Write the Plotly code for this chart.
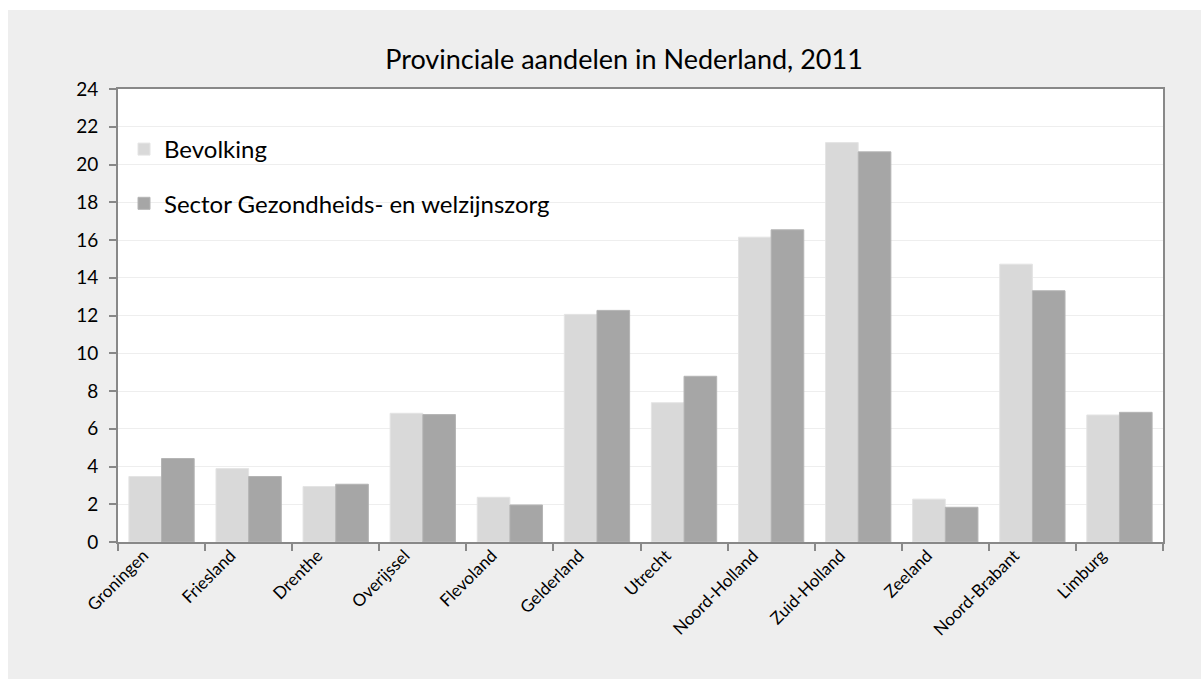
import plotly.graph_objects as go

provinces = ["Groningen", "Friesland", "Drenthe", "Overijssel", "Flevoland", "Gelderland",
             "Utrecht", "Noord-Holland", "Zuid-Holland", "Zeeland", "Noord-Brabant", "Limburg"]
bevolking = [3.47, 3.89, 2.94, 6.82, 2.37, 12.06, 7.38, 16.15, 21.16, 2.27, 14.72, 6.73]
sector = [4.42, 3.47, 3.06, 6.75, 1.96, 12.27, 8.78, 16.54, 20.67, 1.84, 13.31, 6.87]
y_ticks = list(range(0, 25, 2))

FONT = "Lato, 'Open Sans', sans-serif"

fig = go.Figure()
fig.add_trace(go.Bar(x=provinces, y=bevolking, name="Bevolking", legendgroup="a",
                     marker=dict(color="#D9D9D9", line=dict(color="#E4E4E4", width=1))))
fig.add_trace(go.Bar(x=provinces, y=sector, name="Sector Gezondheids- en welzijnszorg", legendgroup="b",
                     marker=dict(color="#A6A6A6", line=dict(color="#B4B4B4", width=1))))

L, R, T, B = 118, 38, 89, 137
W, H = 1201, 679
pw, ph = W - L - R, H - T - B

def px(x):
    return (x - L) / pw

def py(y):
    return (H - B - y) / ph

fig.update_layout(
    width=W, height=H,
    margin=dict(l=L, r=R, t=T, b=B),
    paper_bgcolor="#EEEEEE",
    plot_bgcolor="#FFFFFF",
    barmode="group",
    bargap=0.25,
    bargroupgap=0,
    font=dict(family=FONT, color="#000000"),
    title=dict(text="Provinciale aandelen in Nederland, 2011", x=px(624), xref="paper", xanchor="center",
               y=(H - 60) / H, yanchor="middle", font=dict(size=27, family=FONT, color="#000000")),
    legend=dict(x=px(124), y=py(127), xanchor="left", yanchor="top", bgcolor="rgba(0,0,0,0)",
                font=dict(size=24, family=FONT, color="#000000"), tracegroupgap=20,
                traceorder="grouped", itemwidth=30),
    showlegend=True,
    shapes=[
        dict(type="rect", xref="paper", yref="paper", x0=px(-5), x1=px(8), y0=py(-5), y1=py(H + 5),
             fillcolor="#FFFFFF", line=dict(width=0), layer="below"),
        dict(type="rect", xref="paper", yref="paper", x0=px(-5), x1=px(W + 5), y0=py(10), y1=py(-5),
             fillcolor="#FFFFFF", line=dict(width=0), layer="below"),
    ],
)

fig.update_xaxes(
    type="category", tickson="boundaries", ticks="outside", ticklen=7, tickwidth=2, tickcolor="#888888",
    showline=True, linecolor="#888888", linewidth=2, mirror=True,
    tickangle=-45, tickfont=dict(size=17, family=FONT, color="#000000"), showgrid=False,
    ticklabelshift=-18, ticklabelstandoff=-5,
)
fig.update_yaxes(
    range=[0, 24], tickvals=y_ticks, ticks="outside", ticklen=7, tickwidth=2, tickcolor="#888888",
    showline=True, linecolor="#888888", linewidth=2, mirror=True,
    showgrid=True, gridcolor="#EEEEEE", gridwidth=1, zeroline=False,
    tickfont=dict(size=19, family=FONT, color="#000000"), ticklabelstandoff=7,
)

fig.write_html("out.html")
